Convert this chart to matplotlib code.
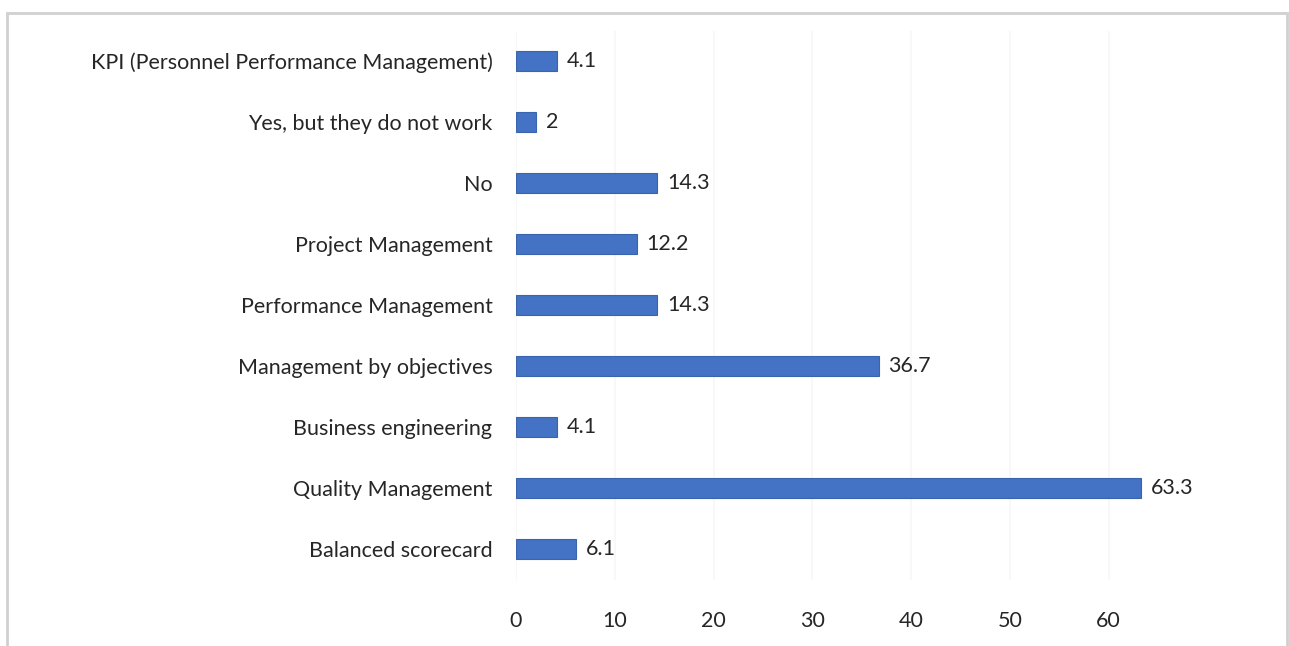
import matplotlib
matplotlib.use("Agg")
import matplotlib.pyplot as plt
from matplotlib.patches import Rectangle

categories = [
    "Balanced scorecard",
    "Quality Management",
    "Business engineering",
    "Management by objectives",
    "Performance Management",
    "Project Management",
    "No",
    "Yes, but they do not work",
    "KPI (Personnel Performance Management)",
]
values = [6.1, 63.3, 4.1, 36.7, 14.3, 12.2, 14.3, 2, 4.1]
value_labels = ["6.1", "63.3", "4.1", "36.7", "14.3", "12.2", "14.3", "2", "4.1"]
xticks = [0, 10, 20, 30, 40, 50, 60]

plt.rcParams['font.family'] = ['Lato', 'DejaVu Sans']

fig = plt.figure(figsize=(12.89, 6.46), dpi=100)
ax = fig.add_axes([516/1289, 66.5/646, (1168-516)/1289, (615.5-66.5)/646])

ypos = list(range(len(categories)))
ax.barh(ypos, values, height=0.33, color="#4472C4", edgecolor="#3a64ad", linewidth=0.8, zorder=3)
for y, v, lab in zip(ypos, values, value_labels):
    ax.text(v + 1.0, y, lab, va="center", ha="left", fontsize=15.5, color="#262626", zorder=4)

ax.set_xlim(0, 66)
ax.set_ylim(-0.5, len(categories) - 0.5)
ax.set_yticks(ypos)
ax.set_yticklabels(categories, fontsize=15.5, color="#262626")
ax.set_xticks(xticks)
ax.set_xticklabels([str(t) for t in xticks], fontsize=15.5, color="#262626")
ax.tick_params(axis="both", length=0)
ax.tick_params(axis="y", pad=17)
ax.tick_params(axis="x", pad=23)
for s in ax.spines.values():
    s.set_visible(False)
ax.grid(axis="x", color="#f7f7f7", linewidth=1.2, zorder=0)
ax.set_axisbelow(True)

fig.patches.append(Rectangle((7/1289, -0.05), (1287-7)/1289, (646-13)/646 + 0.05,
                             transform=fig.transFigure, fill=False,
                             edgecolor="#d0d0d0", linewidth=2, zorder=0))

fig.savefig("out.png", dpi=100)
